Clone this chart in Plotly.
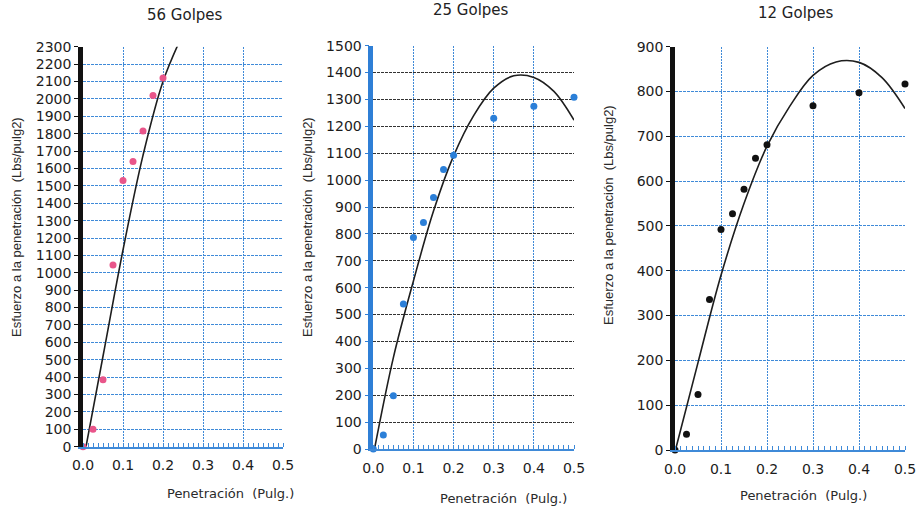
import plotly.graph_objects as go

# ---- data ----
pen = [0.0, 0.025, 0.05, 0.075, 0.1, 0.125, 0.15, 0.175, 0.2]
pen_long = [0.0, 0.025, 0.05, 0.075, 0.1, 0.125, 0.15, 0.175, 0.2, 0.3, 0.4, 0.5]

g56_y = [0, 100, 385, 1045, 1530, 1640, 1815, 2020, 2120]
g25_y = [0, 52, 198, 539, 787, 842, 935, 1040, 1093, 1230, 1275, 1308]
g12_y = [0, 35, 124, 336, 492, 527, 582, 651, 681, 768, 797, 817]

# trend curves
c56_x = [0.0075, 0.05, 0.1, 0.15, 0.2, 0.25]
c56_y = [0, 520, 1131, 1675, 2100, 2375]
c25_x = [0.003, 0.05, 0.1, 0.15, 0.2, 0.25, 0.3, 0.35, 0.4, 0.45, 0.5]
c25_y = [0, 340, 625, 885, 1090, 1240, 1342, 1388, 1382, 1330, 1223]
c12_x = [0.001, 0.05, 0.1, 0.15, 0.2, 0.25, 0.3, 0.35, 0.4, 0.45, 0.5]
c12_y = [0, 195, 390, 550, 678, 768, 836, 866, 865, 831, 762]

titles = ["56 Golpes", "25 Golpes", "12 Golpes"]
x_title = "Penetración  (Pulg.)"
y_title = "Esfuerzo a la penetración  (Lbs/pulg2)"

W, H = 920, 506
BLUE = "#3f8ad8"
PINK = "#e9558a"
DOT_BLUE = "#2b7fd8"

def px_x(p):
    return p / W

def px_y(p):
    return 1 - p / H

fig = go.Figure()

panels = [
    dict(xd=(83, 283), yd=(46.7, 446.7), yr=2300, dy=100, mx=pen, my=g56_y, mc=PINK,
         cx=c56_x, cy=c56_y, axc="#111111", hgrid=BLUE),
    dict(xd=(373.3, 574), yd=(45.7, 449), yr=1500, dy=100, mx=pen_long, my=g25_y, mc=DOT_BLUE,
         cx=c25_x, cy=c25_y, axc="#2f7fd6", hgrid="#333333"),
    dict(xd=(675, 905), yd=(46.7, 450), yr=900, dy=100, mx=pen_long, my=g12_y, mc="#111111",
         cx=c12_x, cy=c12_y, axc="#111111", hgrid=BLUE),
]

tickfont = dict(family="DejaVu Sans", size=14, color="#1c1c1c")

for i, p in enumerate(panels):
    n = "" if i == 0 else str(i + 1)
    xa, ya = "x" + n, "y" + n
    fig.add_trace(go.Scatter(x=p["cx"], y=p["cy"], mode="lines", line_shape="spline",
                             line=dict(color="#1e1e1e", width=1.6), xaxis=xa, yaxis=ya,
                             showlegend=False, hoverinfo="skip"))
    fig.add_trace(go.Scatter(x=p["mx"], y=p["my"], mode="markers",
                             marker=dict(color=p["mc"], size=7), cliponaxis=False,
                             xaxis=xa, yaxis=ya, showlegend=False))
    fig.update_layout(**{
        "xaxis" + n: dict(domain=[px_x(p["xd"][0]), px_x(p["xd"][1])], range=[0, 0.5],
                          anchor=ya, dtick=0.1, tickformat=".1f", tickfont=tickfont,
                          showgrid=True, gridcolor=BLUE, gridwidth=1, griddash="2px,1px",
                          zeroline=False, showline=True, linecolor=BLUE, linewidth=1.5,
                          ticks="outside", ticklen=5, tickcolor="rgba(0,0,0,0)",
                          minor=dict(ticks="inside", ticklen=4, tickcolor=BLUE,
                                     dtick=0.0125, showgrid=False),
                          automargin=False, fixedrange=True),
        "yaxis" + n: dict(domain=[px_y(p["yd"][1]), px_y(p["yd"][0])], range=[0, p["yr"]],
                          anchor=xa, dtick=p["dy"], tickfont=tickfont,
                          showgrid=True, gridcolor=p["hgrid"], gridwidth=1.2, griddash="3px,1px",
                          zeroline=False, showline=True, linecolor=p["axc"], linewidth=4.5,
                          ticks="outside", ticklen=4, tickcolor=p["axc"],
                          automargin=False, fixedrange=True),
    })

annotations = []
title_pos = [(184.5, 15), (471, 10), (796, 13)]
for t, (x, y) in zip(titles, title_pos):
    annotations.append(dict(text=t, x=px_x(x), y=px_y(y), xref="paper", yref="paper",
                            showarrow=False, xanchor="center", yanchor="middle",
                            font=dict(family="DejaVu Sans", size=15, color="#222222")))
xt_pos = [(230, 493), (503, 498), (803, 495)]
for x, y in xt_pos:
    annotations.append(dict(text=x_title, x=px_x(x), y=px_y(y), xref="paper", yref="paper",
                            showarrow=False, xanchor="center", yanchor="middle",
                            font=dict(family="DejaVu Sans", size=13, color="#2a2a2a")))
yt_pos = [(16, 227), (307, 227), (608, 215)]
for x, y in yt_pos:
    annotations.append(dict(text=y_title, x=px_x(x), y=px_y(y), xref="paper", yref="paper",
                            showarrow=False, xanchor="center", yanchor="middle", textangle=-90,
                            font=dict(family="Liberation Sans", size=13, color="#2a2a2a")))

fig.update_layout(width=W, height=H, margin=dict(l=0, r=0, t=0, b=0),
                  paper_bgcolor="white", plot_bgcolor="white",
                  annotations=annotations, showlegend=False)

fig.write_html("out.html")
